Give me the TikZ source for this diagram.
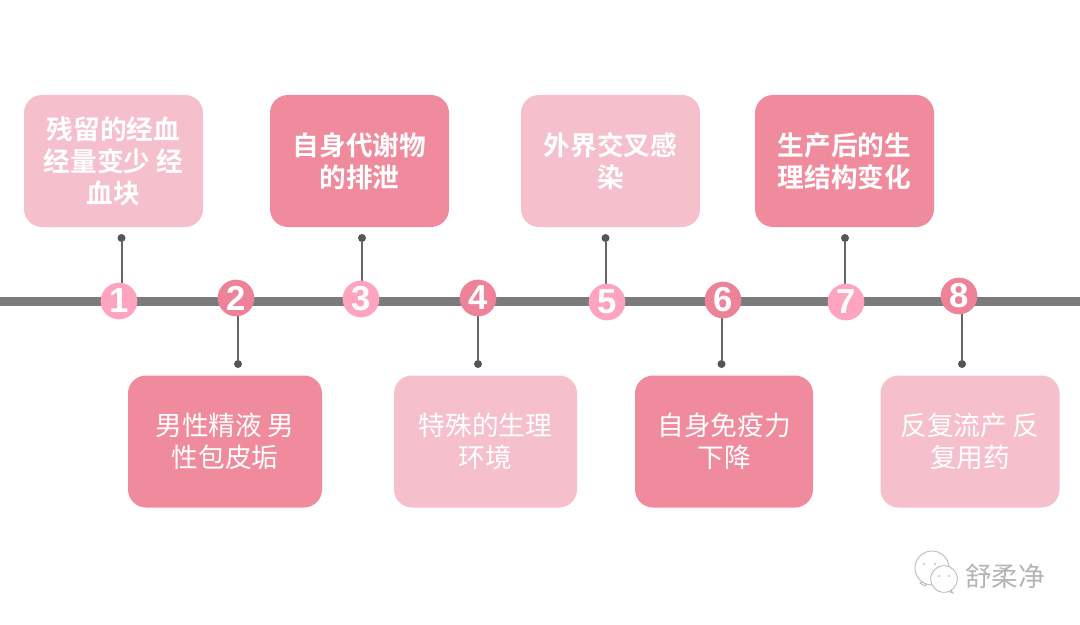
\documentclass[tikz,border=0pt]{standalone}
\usepackage{fontspec}
\setmainfont{Liberation Sans}
\newfontfamily\cjkreg{Noto Sans CJK SC}
\newfontfamily\cjkbold{Noto Sans CJK SC Bold}
\usetikzlibrary{backgrounds,calc}
\definecolor{boxlight}{HTML}{F5C0CC}
\definecolor{boxdark}{HTML}{F08B9D}
\definecolor{numlight}{HTML}{FFA4BE}
\definecolor{numdark}{HTML}{EE8299}
\definecolor{axisgray}{HTML}{7B7B7B}
\definecolor{stemgray}{HTML}{666666}
\definecolor{dotgray}{HTML}{555555}
\definecolor{markgray}{HTML}{B4B4B4}
\tikzset{
  x=0.75pt,y=-0.75pt,
  card/.style={rounded corners=13.5pt,minimum height=99pt,align=center,text=white,inner sep=0pt,font=\fontsize{20}{24}\selectfont},
  boldcard/.style={card,font=\cjkbold\fontsize{20}{24}\selectfont},
  regcard/.style={card,font=\cjkreg\fontsize{20}{24}\selectfont},
  numdot/.style={circle,inner sep=0pt,minimum size=27.5pt,text=white,font=\bfseries\fontsize{26}{26}\selectfont},
  enddot/.style={circle,fill=dotgray,inner sep=0pt,minimum size=6pt},
  stem/.style={stemgray,line width=1.5pt},
  axisline/.style={axisgray,line width=7pt},
  bubble/.style={draw=markgray,line width=0.6pt,fill=white}
}
\begin{document}
\begin{tikzpicture}
\useasboundingbox (0,0) rectangle (1080,624);
% cards
\node[boldcard,fill=boxlight,minimum width=134.25pt] (b1) at (113.5,161) {残留的经血\\经量变少 经\\血块};
\node[boldcard,fill=boxdark,minimum width=134.25pt] (b3) at (359.5,161) {自身代谢物\\的排泄};
\node[boldcard,fill=boxlight,minimum width=134.25pt] (b5) at (610.5,161) {外界交叉感\\染};
\node[boldcard,fill=boxdark,minimum width=134.25pt] (b7) at (844.5,161) {生产后的生\\理结构变化};
\node[regcard,fill=boxdark,minimum width=145.5pt] (b2) at (225,441.5) {男性精液 男\\性包皮垢};
\node[regcard,fill=boxlight,minimum width=137.25pt] (b4) at (485.5,441.5) {特殊的生理\\环境};
\node[regcard,fill=boxdark,minimum width=133.5pt] (b6) at (724,441.5) {自身免疫力\\下降};
\node[regcard,fill=boxlight,minimum width=134.25pt] (b8) at (970,441.5) {反复流产 反\\复用药};
% axis ends
\coordinate (axisL) at (0,301.5);
\coordinate (axisR) at (1080,301.5);
% number circles
\node[numdot,fill=numlight] (n1) at (119,301) {1};
\node[numdot,fill=numdark] (n2) at (236,298) {2};
\node[numdot,fill=numlight] (n3) at (361,299) {3};
\node[numdot,fill=numdark] (n4) at (478,298) {4};
\node[numdot,fill=numlight] (n5) at (607,302) {5};
\node[numdot,fill=numdark] (n6) at (723,300) {6};
\node[numdot,fill=numlight] (n7) at (846,302) {7};
\node[numdot,fill=numdark] (n8) at (959,296) {8};
% stem end dots
\node[enddot] (d1) at (121.5,238) {};
\node[enddot] (d2) at (238,364) {};
\node[enddot] (d3) at (362,238) {};
\node[enddot] (d4) at (478,364) {};
\node[enddot] (d5) at (605.5,238) {};
\node[enddot] (d6) at (721.5,364) {};
\node[enddot] (d7) at (845,238) {};
\node[enddot] (d8) at (962,364) {};
\begin{pgfonlayer}{background}
\fill[white] (0,0) rectangle (1080,624);
\draw[axisline] (axisL) -- (axisR);
\foreach \i in {1,...,8}{\draw[stem] (d\i) -- (d\i |- n\i.center);}
\end{pgfonlayer}
% watermark
\path[bubble] (925,586) -- (920,583) -- (930,579) -- cycle;
\node[circle,bubble,minimum size=25.5pt,inner sep=0pt] (w1) at (932,568) {};
\fill[markgray] (924,564) circle (1) (935,564) circle (1);
\path[bubble] (950,589) -- (953,593) -- (945,590) -- cycle;
\node[circle,bubble,minimum size=20pt,inner sep=0pt] (w2) at (944,579) {};
\fill[markgray] (939,576) circle (1) (949,576) circle (1);
\node[text=white,font=\cjkreg\fontsize{20}{24}\selectfont,inner sep=0pt] (wm0) at (1005.6,576.6) {舒柔净};
\node[text=markgray,font=\cjkreg\fontsize{20}{24}\selectfont,inner sep=0pt] (wm) at (1005,576) {舒柔净};
\end{tikzpicture}
\end{document}
